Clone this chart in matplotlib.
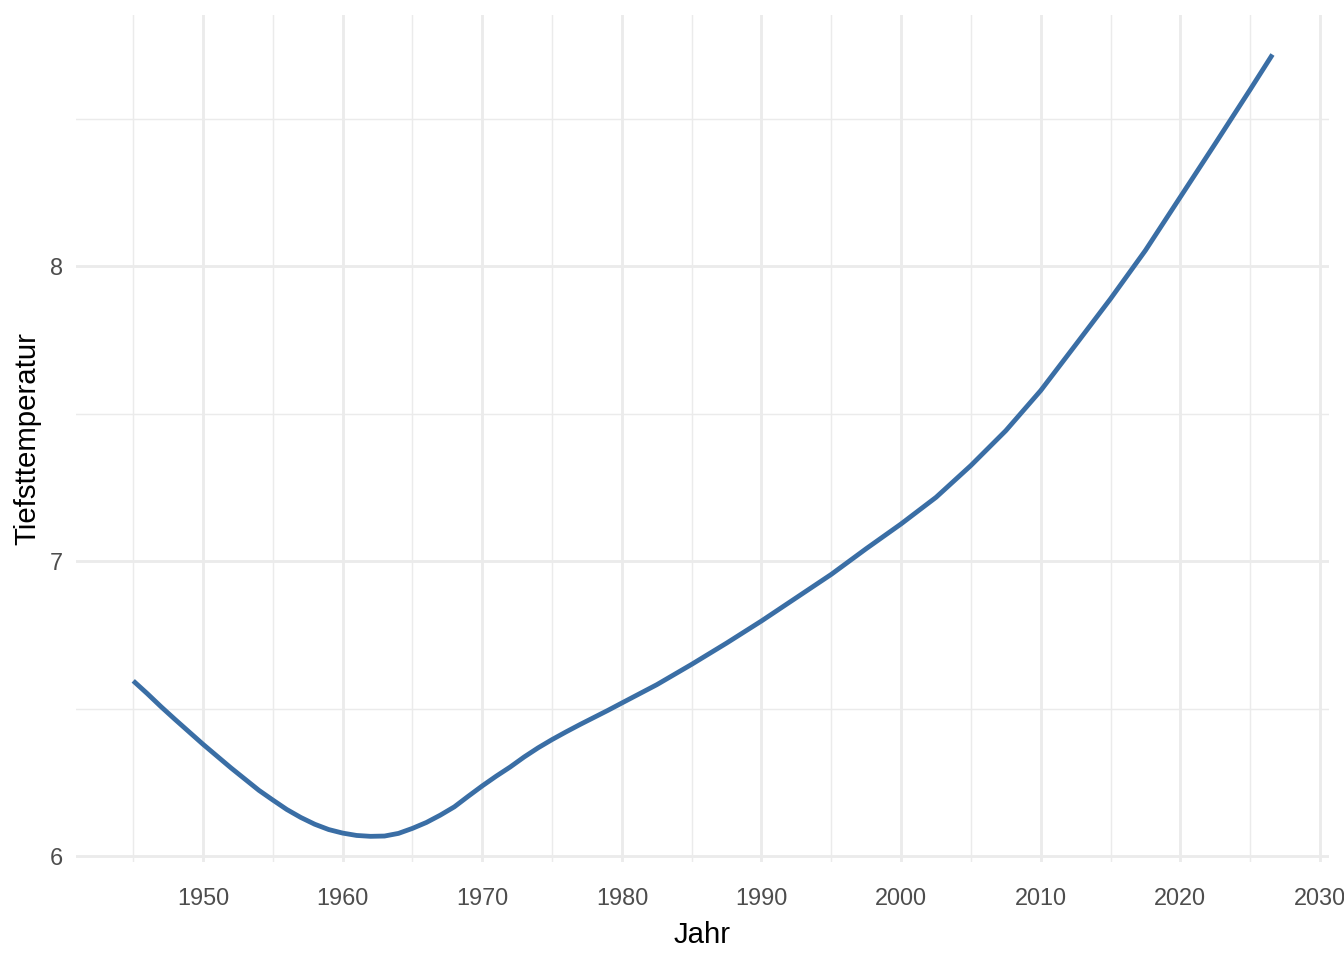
import numpy as np
import matplotlib
matplotlib.use("Agg")
import matplotlib.pyplot as plt
from matplotlib.ticker import MultipleLocator

# Werte (geglaetteter Verlauf)
years = [1945, 1946, 1947, 1948, 1949, 1950, 1951, 1952, 1953, 1954,
         1955, 1956, 1957, 1958, 1959, 1960, 1961, 1962, 1963, 1964,
         1965, 1966, 1967, 1968, 1969, 1970, 1971, 1972, 1973, 1974,
         1975, 1976, 1977, 1978, 1979, 1980, 1982.5, 1985, 1987.5, 1990,
         1992.5, 1995, 1997.5, 2000, 2002.5, 2005, 2007.5, 2010, 2012.5, 2015,
         2017.5, 2020, 2022.5, 2025, 2026.6]
tmin = [6.594, 6.551, 6.506, 6.463, 6.421, 6.379, 6.339, 6.299, 6.261, 6.223,
        6.190, 6.158, 6.131, 6.108, 6.090, 6.078, 6.070, 6.067, 6.068, 6.077,
        6.094, 6.114, 6.139, 6.167, 6.203, 6.238, 6.271, 6.302, 6.336, 6.367,
        6.395, 6.421, 6.446, 6.470, 6.494, 6.519, 6.581, 6.650, 6.722, 6.797,
        6.876, 6.955, 7.042, 7.126, 7.216, 7.324, 7.442, 7.578, 7.733, 7.889,
        8.053, 8.234, 8.415, 8.598, 8.717]

x_major = [1950, 1960, 1970, 1980, 1990, 2000, 2010, 2020, 2030]
y_major = [6, 7, 8]

plt.rcParams['font.family'] = ['Liberation Sans', 'DejaVu Sans']

fig = plt.figure(figsize=(7, 5), dpi=192)
ax = fig.add_axes([76 / 1344, 98 / 960, (1329 - 76) / 1344, (862 - 15) / 960])

ax.plot(years, tmin, color='#3A6EA5', lw=1.8, solid_capstyle='butt',
        solid_joinstyle='round', zorder=3)

ax.set_xlim(1940.9, 2030.65)
ax.set_ylim(5.98, 8.851)
ax.set_xticks(x_major)
ax.set_yticks(y_major)
ax.xaxis.set_minor_locator(MultipleLocator(5))
ax.yaxis.set_minor_locator(MultipleLocator(0.5))

ax.grid(which='major', color='#EBEBEB', lw=1.07)
ax.grid(which='minor', color='#EBEBEB', lw=0.53)
ax.set_axisbelow(True)

for s in ax.spines.values():
    s.set_visible(False)

ax.tick_params(which='both', length=0)
ax.tick_params(axis='x', pad=9.5, labelsize=8.8, labelcolor='#4D4D4D')
ax.tick_params(axis='y', pad=5, labelsize=8.8, labelcolor='#4D4D4D')

ax.set_xlabel('Jahr', fontsize=11, color='black', labelpad=4)
ax.set_ylabel('Tiefsttemperatur', fontsize=11, color='black', labelpad=3)

fig.savefig('out.png', dpi=192)
